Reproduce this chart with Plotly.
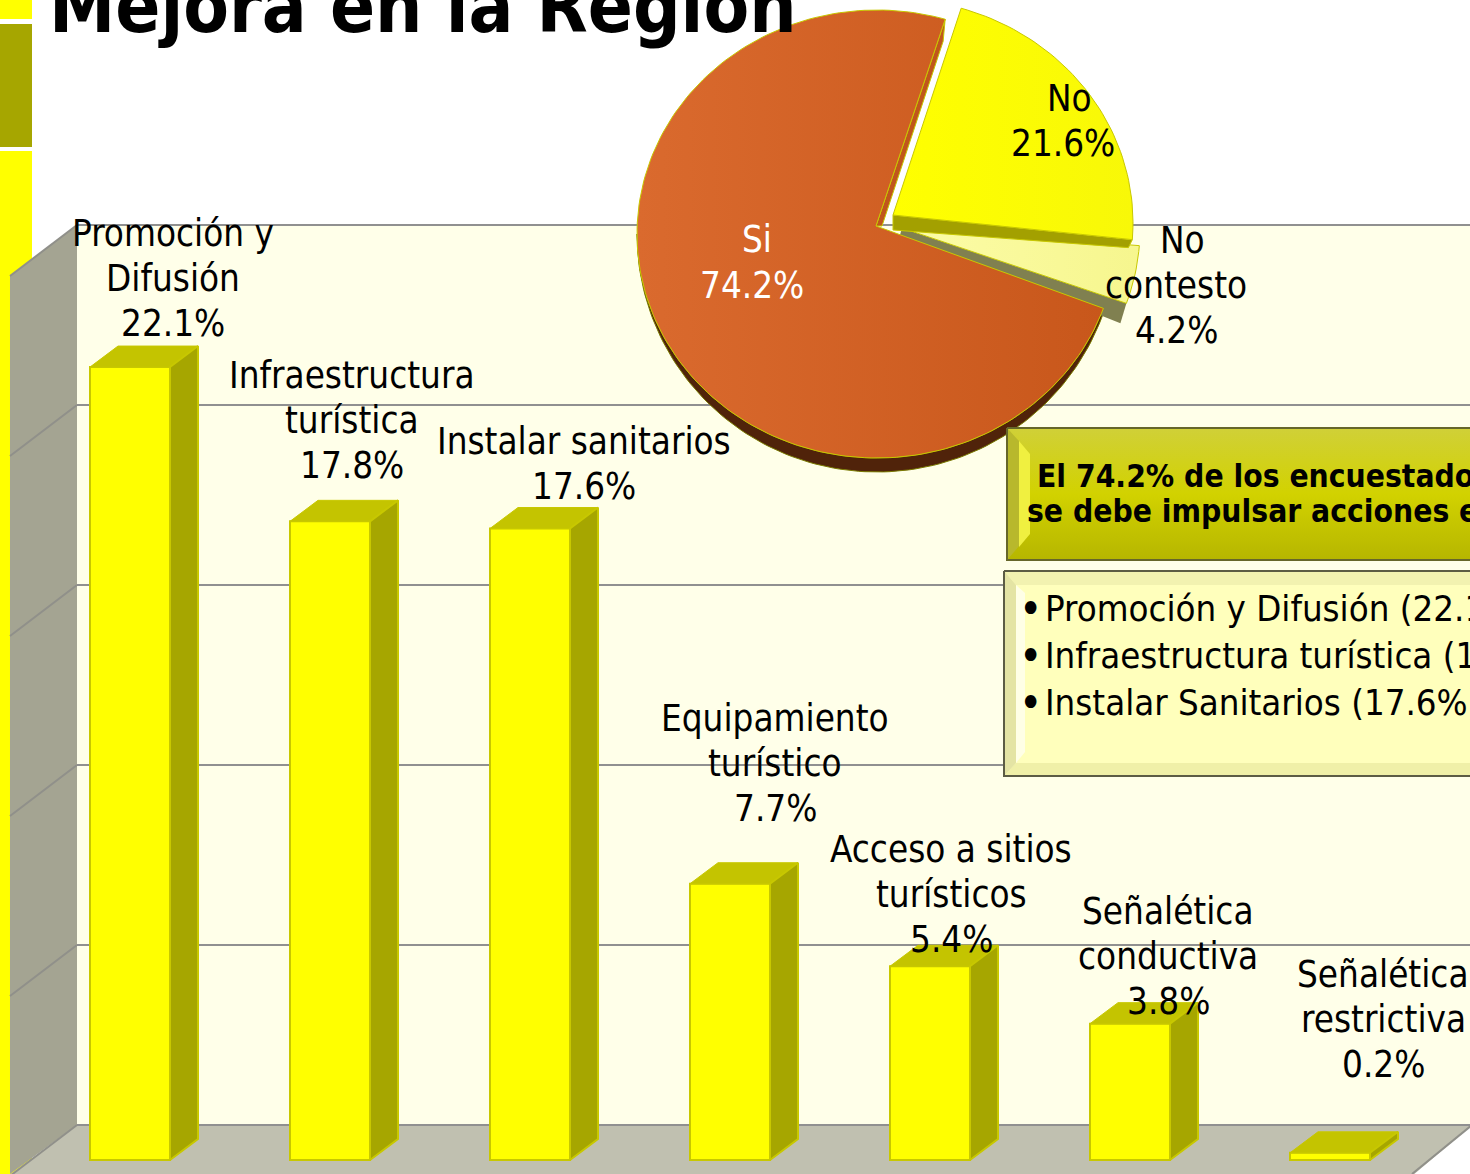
import math
import plotly.graph_objects as go

# ---------- data ----------
categories = ["Promoción y\nDifusión", "Infraestructura\nturística", "Instalar sanitarios",
              "Equipamiento\nturístico", "Acceso a sitios\nturísticos",
              "Señalética\nconductiva", "Señalética\nrestrictiva"]
bar_values = [22.1, 17.8, 17.6, 7.7, 5.4, 3.8, 0.2]
pie_labels = ["No", "No\ncontesto", "Si"]
pie_values = [21.6, 4.2, 74.2]
grid_ticks = [0, 5, 10, 15, 20, 25]
title_text = "Mejora en la Región"
headline_lines = ["El 74.2% de los encuestados considera que", "se debe impulsar acciones en:"]
bullet_lines = ["Promoción y Difusión (22.1%)", "Infraestructura turística (17.8%)", "Instalar Sanitarios (17.6%)"]

# ---------- layout constants ----------
W, H = 1470, 1174
FONT = "DejaVu Sans Condensed, DejaVu Sans, sans-serif"
FS = 36.5
LINE = 45
PX_PER_PCT = 35.88
BAR_DX, BAR_DY = 28 / 200, 21 / PX_PER_PCT
HALF = 0.2
label_nudge = [(43, 44), (22, 56), (54, 42), (45, 75), (21, 27), (38, 22), (53, 88)]

fig = go.Figure()

# ---------- wall grid (primary axes) ----------
fig.add_trace(go.Scatter(x=[0] * len(grid_ticks), y=grid_ticks, mode="lines", line=dict(width=0),
                         hoverinfo="skip", showlegend=False, xaxis="x", yaxis="y"))

# ---------- bars ----------
fig.add_trace(go.Bar(x=list(range(len(bar_values))), y=bar_values, width=2 * HALF,
                     text=None, customdata=categories,
                     marker=dict(color="#FFFF00", line=dict(color="#C8C800", width=2)),
                     showlegend=False, xaxis="x2", yaxis="y2"))
for i, v in enumerate(bar_values):
    fig.add_trace(go.Scatter(
        x=[i - HALF, i + HALF, i + HALF + BAR_DX, i - HALF + BAR_DX, i - HALF],
        y=[v, v, v + BAR_DY, v + BAR_DY, v], fill="toself", fillcolor="#C4C400", mode="lines",
        line=dict(color="#C8C800", width=1), showlegend=False, hoverinfo="skip", xaxis="x2", yaxis="y2"))
    fig.add_trace(go.Scatter(
        x=[i + HALF, i + HALF + BAR_DX, i + HALF + BAR_DX, i + HALF, i + HALF],
        y=[v, v + BAR_DY, BAR_DY, 0, v], fill="toself", fillcolor="#A6A600", mode="lines",
        line=dict(color="#C8C800", width=2), showlegend=False, hoverinfo="skip", xaxis="x2", yaxis="y2"))


# ---------- pixel overlay helpers ----------
def poly(pts, color=None, line=None, lw=1, grad=None):
    xs = [p[0] for p in pts] + [pts[0][0]]
    ys = [p[1] for p in pts] + [pts[0][1]]
    kw = dict(x=xs, y=ys, fill="toself", mode="lines", showlegend=False, hoverinfo="skip",
              xaxis="x3", yaxis="y3",
              line=dict(color=line or "rgba(0,0,0,0)", width=lw if line else 0))
    if grad:
        stops = grad[1:]
        kw["fillgradient"] = dict(type=grad[0],
                                  colorscale=[[k / (len(stops) - 1), c] for k, c in enumerate(stops)])
    else:
        kw["fillcolor"] = color
    fig.add_trace(go.Scatter(**kw))


RX, RY = 240, 224
START_DEG = 16.5
EDGE = "#C8C800"


def arc_pt(c, deg):
    t = math.radians(deg)
    return (c[0] + RX * math.sin(t), c[1] - RY * math.cos(t))


def arc_degs(d0, d1):
    n = max(2, int(abs(d1 - d0) / 1.5))
    return [d0 + (d1 - d0) * k / n for k in range(n + 1)]


def arc(c, d0, d1):
    return [arc_pt(c, d) for d in arc_degs(d0, d1)]


sweeps = [v / sum(pie_values) * 360 for v in pie_values]
a0 = START_DEG
a1 = a0 + sweeps[0]
a2 = a1 + sweeps[1]
a3 = a2 + sweeps[2]

c_no, apex_no = (893, 223), (893, 215)
c_nc, apex_nc = (900, 229), (902, 228)
c_si, apex_si = (877, 234), (876, 226)

# Si depth (outer rim, lower half, tapering towards the sides)
rim_degs = arc_degs(a2, 270)
top_arc = [arc_pt(c_si, d) for d in rim_degs]
low_arc = [(arc_pt(c_si, d)[0], arc_pt(c_si, d)[1] + 14 * max(0.0, -math.cos(math.radians(d))))
           for d in reversed(rim_degs)]
poly(top_arc + low_arc, "#50230A", line="#7A7A00", lw=1)

# No contesto
end_nc = arc_pt(c_nc, a2)
poly([apex_nc, (apex_nc[0] - 2, apex_nc[1] + 7), (end_nc[0] - 6, end_nc[1] + 20), end_nc], "#808050")
poly([apex_nc] + arc(c_nc, a1, a2), line=EDGE, grad=("horizontal", "#FCFCA8", "#F6F68E"))

# No
end_no = arc_pt(c_no, a1)
poly([apex_no, (apex_no[0], apex_no[1] + 15), (end_no[0] - 4, end_no[1] + 8), end_no], "#A3A000",
     line=EDGE)
poly([apex_no] + arc(c_no, a0, a1), line=EDGE, grad=("horizontal", "#FFFF00", "#F8F808"))

# Si
start_si = arc_pt(c_si, a0)
poly([start_si, (start_si[0] - 2, start_si[1] + 22), (apex_si[0] + 6, apex_si[1]), apex_si], "#C0561C",
     line=EDGE)
poly([apex_si] + arc(c_si, a2, a3), line=EDGE, grad=("horizontal", "#DA6A2E", "#C8571B"))

# ---------- text boxes ----------
# headline box
bx0, by0, bx1, by1 = 1007, 428, 1471, 560
poly([(bx0, by0), (bx1, by0), (bx1, by1), (bx0, by1)], line="#66662A", lw=2,
     grad=("vertical", "#B6B600", "#D2D200", "#D0D038"))
poly([(bx0 + 1, by0 + 1), (bx0 + 12, by0 + 13), (bx0 + 12, by1 - 14), (bx0 + 1, by1 - 1)], "#B8B82C")
poly([(bx0 + 12, by0 + 13), (bx0 + 23, by0 + 26), (bx0 + 23, by1 - 26), (bx0 + 12, by1 - 13)], "#F0F040")
# bullet box
cx0, cy0, cx1, cy1 = 1004, 571, 1471, 776
poly([(cx0, cy0), (cx1, cy0), (cx1, cy1), (cx0, cy1)], "#FFFFBC", line="#5C5C44", lw=2)
poly([(cx0 + 1, cy0 + 1), (cx1, cy0 + 1), (cx1, cy0 + 14), (cx0 + 12, cy0 + 14)], "#F2F2B0")
poly([(cx0 + 1, cy1 - 1), (cx1, cy1 - 1), (cx1, cy1 - 13), (cx0 + 12, cy1 - 13)], "#F0F0A8")
poly([(cx0 + 1, cy0 + 1), (cx0 + 12, cy0 + 14), (cx0 + 12, cy1 - 13), (cx0 + 1, cy1 - 1)], "#E4E4A4")
poly([(cx0 + 12, cy0 + 14), (cx0 + 21, cy0 + 22), (cx0 + 21, cy1 - 24), (cx0 + 12, cy1 - 13)], "#FFFFE6")

# ---------- annotations ----------
ann = []


def px_text(s, x, y, size=FS, color="black", anchor="center", bold=False):
    ann.append(dict(x=x, y=y, xref="x3", yref="y3", text=f"<b>{s}</b>" if bold else s, showarrow=False,
                    xanchor=anchor, yanchor="middle", font=dict(family=FONT, size=size, color=color)))


# bar labels
for i, (cat, v) in enumerate(zip(categories, bar_values)):
    lines = cat.split("\n") + [f"{v:.1f}%"]
    nx, ny = label_nudge[i]
    for k, s in enumerate(reversed(lines)):
        ann.append(dict(x=i, y=v, xref="x2", yref="y2", text=s, showarrow=False, xanchor="center",
                        yanchor="middle", xshift=nx, yshift=ny + k * LINE,
                        font=dict(family=FONT, size=FS, color="black")))

# pie labels
px_text(pie_labels[2], 757, 239, color="white")
px_text(f"{pie_values[2]:.1f}%", 752, 285, color="white")
px_text(pie_labels[0], 1069, 98)
px_text(f"{pie_values[0]:.1f}%", 1063, 143)
nc = pie_labels[1].split("\n")
px_text(nc[0], 1182, 240)
px_text(nc[1], 1176, 285)
px_text(f"{pie_values[1]:.1f}%", 1176, 330)

# title
px_text(title_text, 47, 6, size=74, anchor="left", bold=True)

# boxes
px_text(headline_lines[0], 1035, 476, size=31.5, anchor="left", bold=True)
px_text(headline_lines[1], 1025, 511, size=31.5, anchor="left", bold=True)
for s, y in zip(bullet_lines, [608, 655, 702]):
    px_text("•", 1030, y, size=44)
    px_text(s, 1043, y, size=36.3, anchor="left")


# ---------- background shapes (in pixel space, below traces) ----------
def path(pts):
    return "M " + " L ".join(f"{x/W:.5f},{1-y/H:.5f}" for x, y in pts) + " Z"


def bg(pts, color, line=None, lw=0):
    return dict(type="path", path=path(pts), xref="paper", yref="paper", layer="below",
                fillcolor=color, line=dict(color=line or "rgba(0,0,0,0)", width=lw))


shapes = [
    bg([(0, -2), (32, -2), (32, 19), (0, 19)], "#FFFF00"),
    bg([(0, 24), (32, 24), (32, 147), (0, 147)], "#A6A600"),
    bg([(0, 151), (32, 151), (32, 1176), (0, 1176)], "#FFFF00"),
    bg([(77, 225), (1472, 225), (1472, 1125), (77, 1125)], "#FFFFE9"),
    bg([(10, 276), (77, 225), (77, 1125), (10, 1174)], "#A4A492"),
    bg([(77, 1125), (1472, 1125), (1412, 1176), (8, 1176)], "#C0C0B0"),
]
for gy in [225, 405, 585, 765, 945, 1125]:
    shapes.append(dict(type="line", xref="paper", yref="paper", layer="below",
                       x0=10 / W, y0=1 - (gy + 51) / H, x1=77 / W, y1=1 - gy / H,
                       line=dict(color="#90908A", width=2)))
shapes.append(dict(type="line", xref="paper", yref="paper", layer="below",
                   x0=1412 / W, y0=1 - 1174 / H, x1=1472 / W, y1=1 - 1125 / H,
                   line=dict(color="#90908A", width=2)))

hidden = dict(visible=False, fixedrange=True)
fig.update_layout(
    width=W, height=H, margin=dict(l=0, r=0, t=0, b=0, pad=0),
    paper_bgcolor="white", plot_bgcolor="rgba(0,0,0,0)", showlegend=False,
    barmode="overlay", shapes=shapes, annotations=ann,
    xaxis=dict(domain=[77 / W, 1], range=[0, 1], **hidden),
    yaxis=dict(domain=[0, 1], range=[(1125 - H) / 36, 1125 / 36], tickmode="array", tickvals=grid_ticks,
               showgrid=True, gridcolor="#909090", gridwidth=2, zeroline=False, showline=False,
               showticklabels=False, ticks="", fixedrange=True, anchor="x"),
    xaxis2=dict(domain=[0, 1], range=[-130 / 200, (W - 130) / 200], anchor="y2", **hidden),
    yaxis2=dict(domain=[0, 1], range=[(1160 - H) / PX_PER_PCT, 1160 / PX_PER_PCT], anchor="x2", **hidden),
    xaxis3=dict(domain=[0, 1], range=[0, W], anchor="y3", **hidden),
    yaxis3=dict(domain=[0, 1], range=[H, 0], anchor="x3", **hidden),
)

fig.write_html("out.html", config=dict(displayModeBar=False),
               post_script="document.body.style.margin='0';document.body.style.overflow='hidden';")
